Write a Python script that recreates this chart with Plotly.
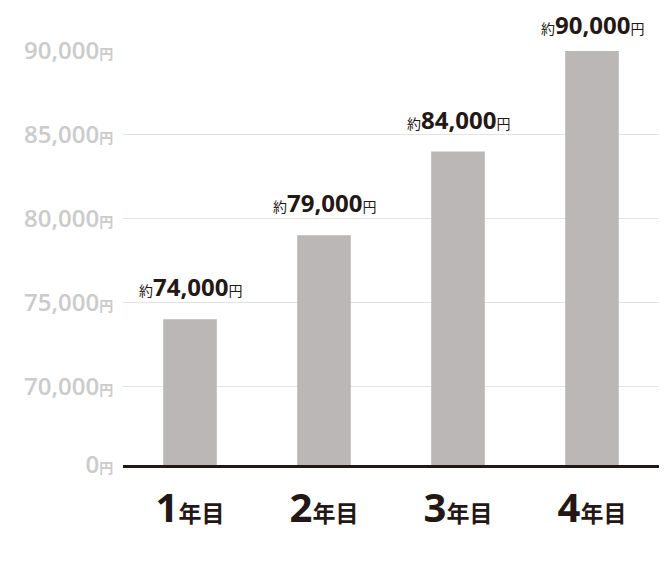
import plotly.graph_objects as go

categories = ["1年目", "2年目", "3年目", "4年目"]
salaries = [74000, 79000, 84000, 90000]
# broken axis: the "0円" tick is drawn at the floor of the visible range
axis_floor = 65300
tick_values = [axis_floor, 70000, 75000, 80000, 85000, 90000]
tick_numbers = ["0", "70,000", "75,000", "80,000", "85,000", "90,000"]

FONT = "Open Sans, Noto Sans CJK JP, sans-serif"
DARK = "#231815"

ytext = [f"{n}<span style='font-size:14px'>円</span>" for n in tick_numbers]
xtext = [f"<span style='font-size:40px'>{c[0]}</span><span style='font-size:23px'>{c[1:]}</span>" for c in categories]

fig = go.Figure()
fig.add_trace(go.Bar(
    x=categories, y=salaries,
    marker=dict(color="#bab7b6", line=dict(width=0)),
    hoverinfo="skip",
))

top = max(salaries)
for c, v in zip(categories, salaries):
    fig.add_annotation(
        x=c, y=v, yanchor="bottom", yshift=8 if v == top else 14, showarrow=False,
        text=f"<span style='font-size:14px'>約</span><b>{v:,}</b><span style='font-size:14px'>円</span>",
        font=dict(family=FONT, size=24, color=DARK),
    )

fig.update_layout(
    width=672, height=576,
    margin=dict(l=115, r=21, t=43, b=119),
    paper_bgcolor="white", plot_bgcolor="white",
    bargap=0.6,
    showlegend=False,
    xaxis=dict(
        tickmode="array", tickvals=categories, ticktext=xtext,
        tickfont=dict(family=FONT, size=24, color=DARK, weight="bold"),
        showline=True, linecolor=DARK, linewidth=2.5,
        ticks="outside", ticklen=25, tickcolor="rgba(0,0,0,0)",
        showgrid=False,
    ),
    yaxis=dict(
        range=[axis_floor, 90000],
        tickmode="array", tickvals=tick_values, ticktext=ytext,
        tickfont=dict(family=FONT, size=24, color="#cbcbcb", weight=600),
        showgrid=True, gridcolor="#e3e3e3", gridwidth=1,
        zeroline=False, showline=False,
        ticks="outside", ticklen=4, tickcolor="rgba(0,0,0,0)",
    ),
)

fig.write_html("out.html")
